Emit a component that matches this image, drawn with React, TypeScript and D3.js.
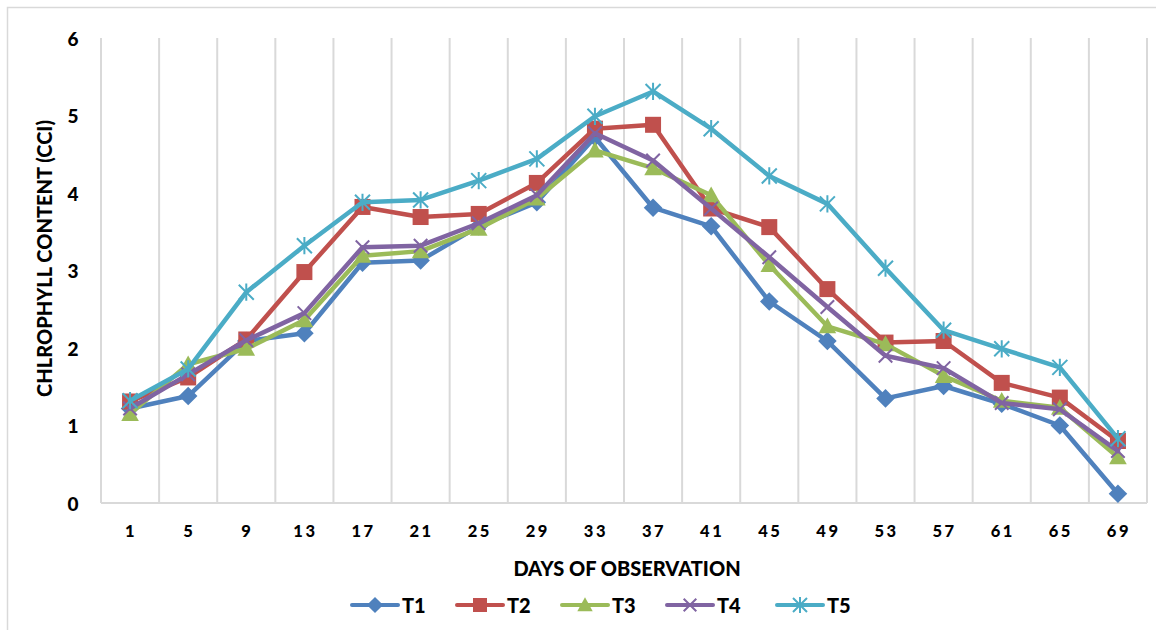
import React from "react";
import * as d3 from "d3";

const days = ["1","5","9","13","17","21","25","29","33","37","41","45","49","53","57","61","65","69"];
const T1 = [1.22,1.38,2.09,2.19,3.10,3.13,3.57,3.88,4.72,3.81,3.57,2.60,2.09,1.35,1.51,1.28,1.00,0.12];
const T2 = [1.31,1.62,2.11,2.98,3.82,3.69,3.73,4.13,4.83,4.88,3.80,3.56,2.76,2.07,2.09,1.55,1.36,0.80];
const T3 = [1.15,1.79,1.99,2.36,3.19,3.25,3.54,3.93,4.55,4.32,3.97,3.07,2.28,2.05,1.64,1.32,1.23,0.59];
const T4 = [1.22,1.66,2.10,2.45,3.30,3.32,3.61,3.97,4.77,4.42,3.80,3.17,2.53,1.90,1.74,1.29,1.21,0.67];
const T5 = [1.32,1.73,2.72,3.32,3.88,3.91,4.16,4.44,4.99,5.31,4.83,4.22,3.86,3.03,2.23,1.99,1.75,0.83];
const seriesNames = ["T1","T2","T3","T4","T5"];
const seriesValues = [T1,T2,T3,T4,T5];
const colors = ["#4F81BD","#C0504D","#9BBB59","#8064A2","#4BACC6"];
const markerTypes = ["diamond","square","triangle","x","star"];
const yTicks = [0,1,2,3,4,5,6];

const W = 1156, H = 630;
const plot = { left: 101, right: 1147, top: 38, bottom: 503 };

function Marker({ type, x, y, color, s }: { type: string; x: number; y: number; color: string; s: number }) {
  if (type === "diamond") {
    const r = s * 0.58;
    return <path d={`M${x},${y - r}L${x + r},${y}L${x},${y + r}L${x - r},${y}Z`} fill={color} />;
  }
  if (type === "square") {
    const r = s * 0.5;
    return <rect x={x - r} y={y - r} width={2 * r} height={2 * r} fill={color} />;
  }
  if (type === "triangle") {
    const r = s * 0.55;
    return <path d={`M${x},${y - r}L${x + r},${y + r * 0.8}L${x - r},${y + r * 0.8}Z`} fill={color} />;
  }
  if (type === "x") {
    const r = s * 0.45;
    return (
      <path d={`M${x - r},${y - r}L${x + r},${y + r}M${x - r},${y + r}L${x + r},${y - r}`} stroke={color} strokeWidth={2} fill="none" />
    );
  }
  const r = s * 0.5;
  return (
    <path
      d={`M${x - r},${y - r}L${x + r},${y + r}M${x - r},${y + r}L${x + r},${y - r}M${x},${y - r * 1.15}L${x},${y + r * 1.15}`}
      stroke={color}
      strokeWidth={2}
      fill="none"
    />
  );
}

export default function App() {
  const x = d3.scaleBand<string>().domain(days).range([plot.left, plot.right]).padding(0);
  const y = d3.scaleLinear().domain([0, 6]).range([plot.bottom, plot.top]);
  const cx = (d: string) => (x(d) as number) + x.bandwidth() / 2;
  const line = d3
    .line<number>()
    .x((_, i) => cx(days[i]))
    .y((v) => y(v));

  const boundaries = d3.range(days.length + 1).map((i) => plot.left + i * x.bandwidth());
  const legendX = [352, 457, 562, 667, 777];
  const font = "Lato, 'Open Sans', sans-serif";

  return (
    <svg width={W} height={H} style={{ position: "absolute", left: 0, top: 0, background: "#fff" }}>
      <rect x={7.5} y={7.5} width={W + 10} height={H + 10} fill="#fff" stroke="#d9d9d9" strokeWidth={1.5} />
      {boundaries.slice(1).map((bx, i) => (
        <line key={i} x1={bx} x2={bx} y1={plot.top} y2={plot.bottom} stroke="#d9d9d9" strokeWidth={2} />
      ))}
      <line x1={plot.left} x2={plot.left} y1={plot.top} y2={plot.bottom} stroke="#d9d9d9" strokeWidth={2} />
      <line x1={plot.left} x2={plot.right} y1={plot.bottom} y2={plot.bottom} stroke="#d9d9d9" strokeWidth={2} />
      {yTicks.map((t) => (
        <text key={t} x={73} y={y(t)} textAnchor="middle" dominantBaseline="central" fontFamily={font} fontWeight={900} fontSize={19} fill="#000">
          {t}
        </text>
      ))}
      {days.map((d) => (
        <text key={d} x={cx(d) + 1} y={531} textAnchor="middle" dominantBaseline="central" fontFamily={font} fontWeight={900} fontSize={16.5} letterSpacing={2.5} fill="#000">
          {d}
        </text>
      ))}
      <text
        transform={`translate(44,${(plot.top + plot.bottom) / 2 - 12}) rotate(-90)`}
        textAnchor="middle"
        dominantBaseline="central"
        fontFamily={font}
        fontWeight={900}
        fontSize={20}
        fill="#000"
      >
        CHLROPHYLL CONTENT (CCI)
      </text>
      <text x={627} y={568} textAnchor="middle" dominantBaseline="central" fontFamily={font} fontWeight={900} fontSize={20} fill="#000">
        DAYS OF OBSERVATION
      </text>
      {seriesValues.map((vals, si) => (
        <g key={si}>
          <path d={line(vals) as string} fill="none" stroke={colors[si]} strokeWidth={4.5} strokeLinejoin="round" strokeLinecap="round" />
          {vals.map((v, i) => (
            <Marker key={i} type={markerTypes[si]} x={cx(days[i])} y={y(v)} color={colors[si]} s={si >= 3 ? 15 : 16} />
          ))}
        </g>
      ))}
      {seriesNames.map((n, si) => (
        <g key={n}>
          <line x1={legendX[si]} x2={legendX[si] + 46} y1={605} y2={605} stroke={colors[si]} strokeWidth={4} strokeLinecap="round" />
          <Marker type={markerTypes[si]} x={legendX[si] + 23} y={605} color={colors[si]} s={14} />
          <text x={legendX[si] + 50} y={605} dominantBaseline="central" fontFamily={font} fontWeight={900} fontSize={20} fill="#000">
            {n}
          </text>
        </g>
      ))}
    </svg>
  );
}
